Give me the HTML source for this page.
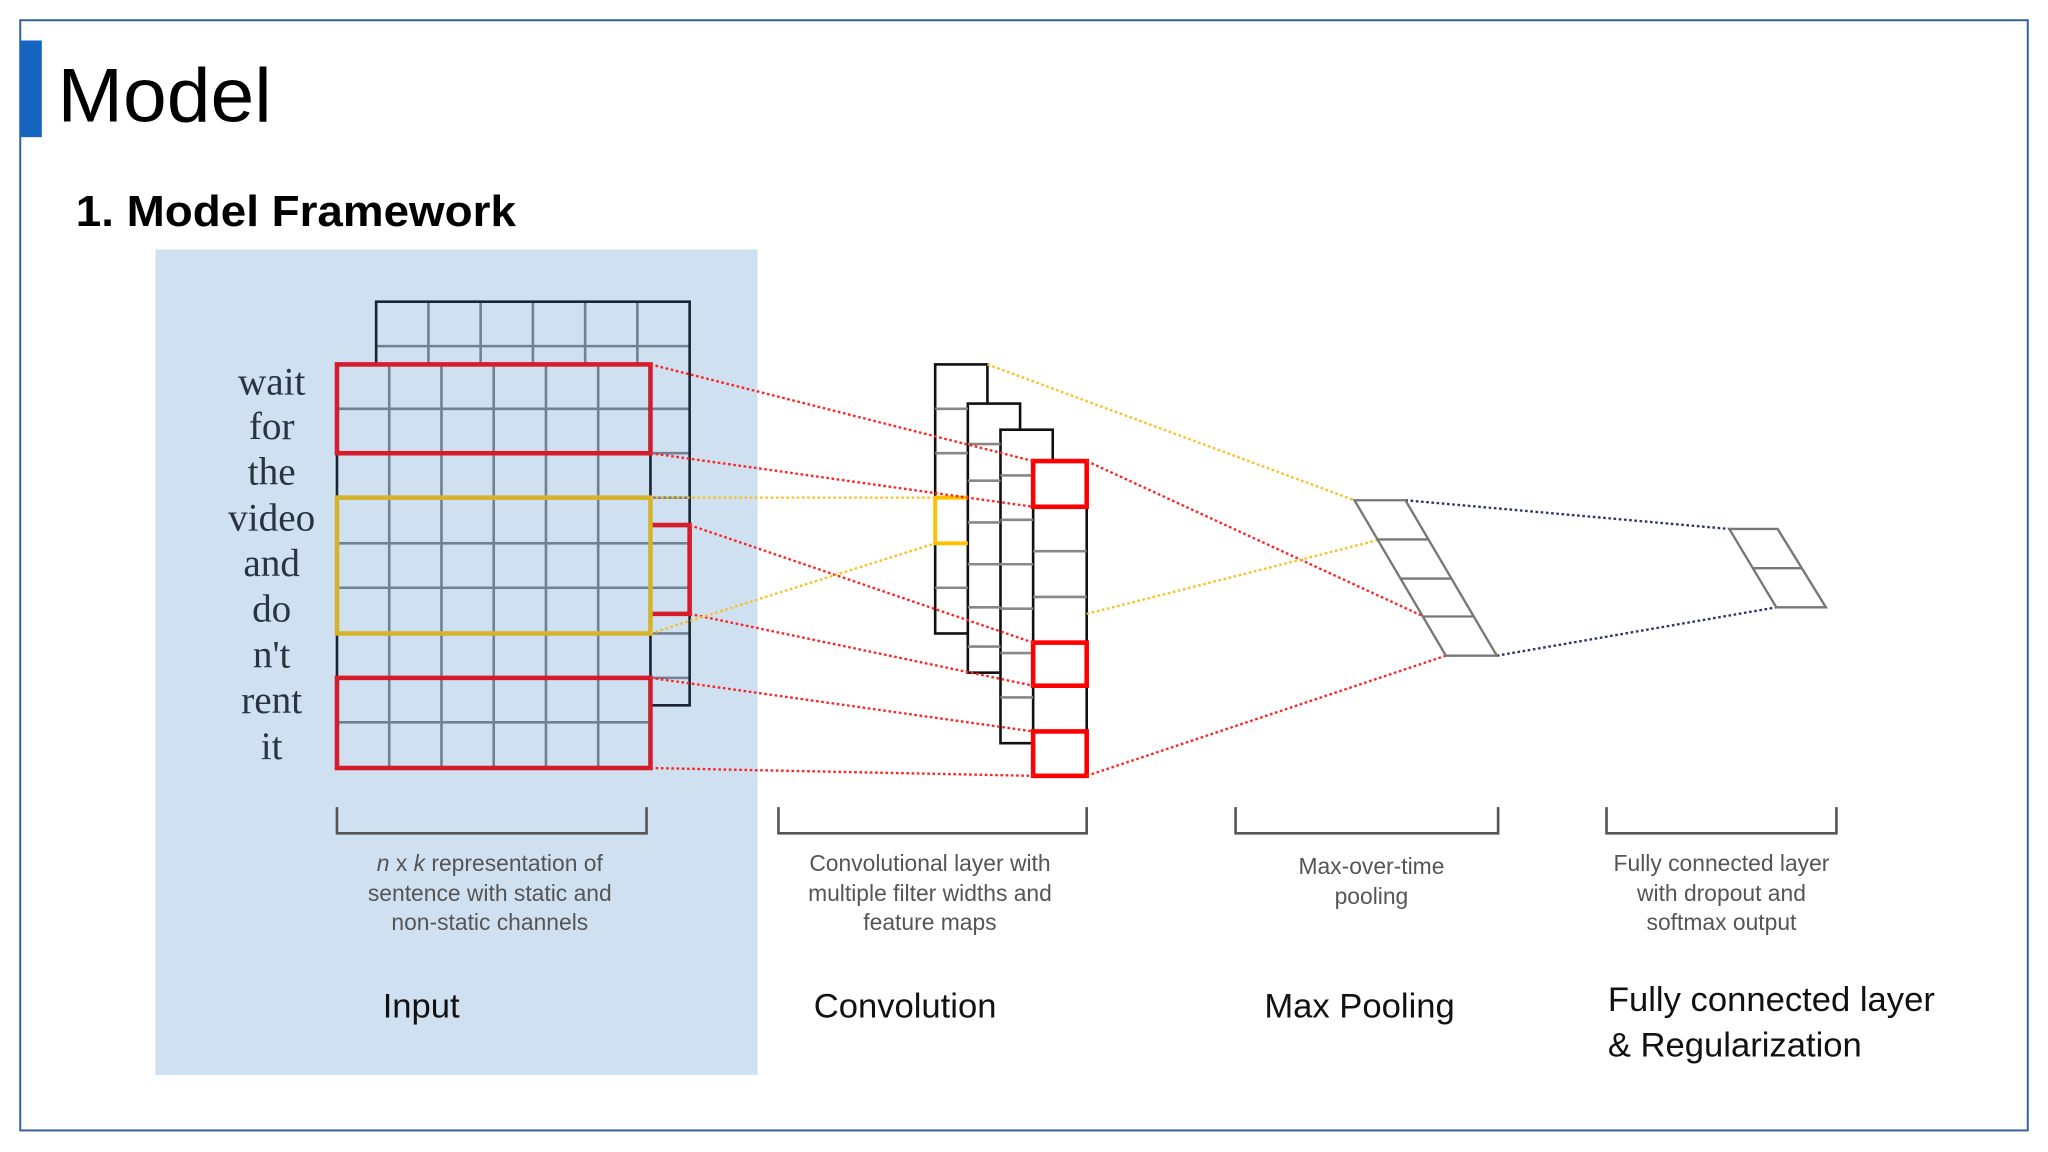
<!DOCTYPE html>
<html><head><meta charset="utf-8"><style>html,body{margin:0;padding:0;background:#fff}svg{display:block}</style></head><body>
<svg width="2048" height="1152" viewBox="0 0 1568 882" xmlns="http://www.w3.org/2000/svg" font-family="Liberation Sans, sans-serif">
<rect x="15.5" y="15.5" width="1537" height="850" fill="none" stroke="#2f5f9e" stroke-width="1.5"/>
<rect x="15" y="31" width="17" height="74" fill="#1565c0"/>
<text x="44" y="93" font-size="58" textLength="164" lengthAdjust="spacingAndGlyphs">Model</text>
<text x="58" y="173" font-size="33" font-weight="bold" textLength="337" lengthAdjust="spacingAndGlyphs">1. Model Framework</text>
<rect x="119" y="191" width="461" height="632" fill="#cfe0f1"/>
<g stroke="#6f8294" stroke-width="2" fill="none">
<path d="M328 231V279M368 231V279M408 231V279M448 231V279M488 231V279M288 265H528"/>
<path d="M498 313H528M498 347H528M498 381H528M498 416H528M498 450H528M498 485H528M498 519H528"/>
<path d="M298 279V588M338 279V588M378 279V588M418 279V588M458 279V588"/>
<path d="M258 313H498M258 347H498M258 381H498M258 416H498M258 450H498M258 485H498M258 519H498M258 553H498"/>
</g>
<path d="M288 279V231H528V540H498" stroke="#1a2533" stroke-width="2" fill="none"/>
<path d="M258 279V588M498 279V588" stroke="#1a2533" stroke-width="2"/>
<g fill="none" stroke-width="3.5">
<rect x="258" y="279" width="240" height="68" stroke="#d51c2c"/>
<rect x="258" y="519" width="240" height="69" stroke="#d51c2c"/>
<path d="M498 402H528V470H498" stroke="#d51c2c"/>
<rect x="258" y="381" width="240" height="104" stroke="#d4b32c"/>
</g>
<g font-family="Liberation Serif, serif" font-size="30" fill="#2a3340" text-anchor="middle">
<text x="208" y="302">wait</text><text x="208" y="336">for</text><text x="208" y="371">the</text><text x="208" y="406">video</text><text x="208" y="441">and</text><text x="208" y="476">do</text><text x="208" y="511">n't</text><text x="208" y="546">rent</text><text x="208" y="581">it</text>
</g>
<g fill="#fff" stroke="#111" stroke-width="2">
<rect x="716" y="279" width="40" height="206"/>
<rect x="741" y="309" width="40" height="206"/>
<rect x="766" y="329" width="40" height="240"/>
<rect x="791" y="353" width="41" height="241"/>
</g>
<g stroke="#888" stroke-width="2">
<path d="M716 313H741M716 347H741M716 450H741"/>
<path d="M741 340H766M741 368H766M741 400H766M741 432H766M741 465H766M741 495H766"/>
<path d="M766 364H791M766 398H791M766 432H791M766 466H791M766 500H791M766 534H791"/>
<path d="M791 422H832M791 457H832"/>
</g>
<g fill="none" stroke="#f00" stroke-width="3.5">
<rect x="791" y="353" width="41" height="35"/>
<rect x="791" y="492" width="41" height="33"/>
<rect x="791" y="560" width="41" height="34"/>
</g>
<path d="M741 381H716V416H741" fill="none" stroke="#ffc000" stroke-width="3"/>
<g fill="none" stroke-width="1.8" stroke-dasharray="2 2">
<path d="M498 279L791 353M498 347L791 388M528 402L791 492M528 470L791 525M498 519L791 560M498 588L791 594" stroke="#f22"/>
<path d="M832 353L1090 472M832 594L1107 502" stroke="#f22"/>
<path d="M498 381H716M498 485L716 416M756 279L1037 383M832 470L1057 413" stroke="#fbbf22"/>
<path d="M1076 383L1324 405M1146 502L1360 465" stroke="#2a3570"/>
</g>
<g fill="none" stroke="#777" stroke-width="1.8">
<path d="M1037 383H1076L1146 502H1107Z"/>
<path d="M1055 413H1094M1072 443H1111M1090 472H1129"/>
<path d="M1324 405H1361L1398 465H1360Z"/>
<path d="M1342 435H1380"/>
</g>
<g fill="none" stroke="#555" stroke-width="2">
<path d="M258 618V638H495V618M596 618V638H832V618M946 618V638H1147V618M1230 618V638H1406V618"/>
</g>
<g font-size="17.5" fill="#555" text-anchor="middle">
<text x="375" y="667"><tspan font-style="italic">n</tspan> x <tspan font-style="italic">k</tspan> representation of</text><text x="375" y="690">sentence with static and</text><text x="375" y="712">non-static channels</text>
<text x="712" y="667">Convolutional layer with</text><text x="712" y="690">multiple filter widths and</text><text x="712" y="712">feature maps</text>
<text x="1050" y="669">Max-over-time</text><text x="1050" y="692">pooling</text>
<text x="1318" y="667">Fully connected layer</text><text x="1318" y="690">with dropout and</text><text x="1318" y="712">softmax output</text>
</g>
<g font-size="26.5" fill="#111">
<text x="293" y="779">Input</text>
<text x="623" y="779">Convolution</text>
<text x="968" y="779">Max Pooling</text>
<text x="1231" y="774">Fully connected layer</text>
<text x="1231" y="809">&amp; Regularization</text>
</g>
</svg>
</body></html>
